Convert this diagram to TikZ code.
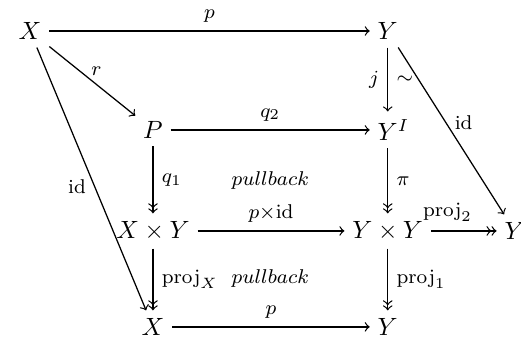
\documentclass[tikz,border=0pt]{standalone}
\usepackage{amsmath,amssymb}
\usetikzlibrary{calc}
\tikzset{
  obj/.style = {inner sep=3pt},
  mor/.style = {->, line width=0.5pt},
  fib/.style = {->>, line width=0.5pt},
  lbl/.style = {font=\footnotesize},
  pbk/.style = {font=\footnotesize},
}

\begin{document}
\begin{tikzpicture}[y=-1cm]
  \useasboundingbox (0,0) rectangle (7.33,4.826);
  % objects
  \node[obj] (xa) at (0.422,0.436) {$X$};
  \node[obj] (ya) at (5.455,0.436) {$Y$};
  \node[obj] (pp) at (2.152,1.828) {$P$};
  \node[obj] (yi) at (5.455,1.828) {$Y\rlap{$^I$}$};
  \node[obj] (xy) at (2.152,3.249) {$X\times Y$};
  \node[obj] (yy) at (5.455,3.249) {$Y\times Y$};
  \node[obj] (yr) at (7.24,3.249) {$Y$};
  \node[obj] (xb) at (2.152,4.599) {$X$};
  \node[obj] (yb) at (5.455,4.599) {$Y$};
  % squares
  \node[pbk] at ($(pp)!0.5!(yy)$) {$pullback$};
  \node[pbk] at ($(xy)!0.5!(yb)$) {$pullback$};
  % arrows
  \draw[mor] (xa) -- node[lbl, above]{$p$} (ya);
  \draw[mor] (xa) -- node[lbl, above, pos=0.55]{$r$} (pp);
  \draw[mor] (xa) -- node[lbl, left, pos=0.53]{id} (xb);
  \draw[mor] (ya) -- node[lbl, left]{$j$} node[lbl, right]{$\sim$} (yi);
  \draw[mor] (ya) -- node[lbl, right, pos=0.45]{id} (yr);
  \draw[mor] (pp) -- node[lbl, above]{$q_2$} (yi);
  \draw[fib] (pp) -- node[lbl, right]{$q_1$} (xy);
  \draw[fib] (yi) -- node[lbl, right]{$\pi$} (yy);
  \draw[mor] (xy) -- node[lbl, above]{$p{\times}\mathrm{id}$} (yy);
  \draw[fib] (yy) -- node[lbl, above, pos=0.25]{$\mathrm{proj}_2$} (yr);
  \draw[fib] (xy) -- node[lbl, right]{$\mathrm{proj}_X$} (xb);
  \draw[fib] (yy) -- node[lbl, right]{$\mathrm{proj}_1$} (yb);
  \draw[mor] (xb) -- node[lbl, above]{$p$} (yb);
\end{tikzpicture}
\end{document}
